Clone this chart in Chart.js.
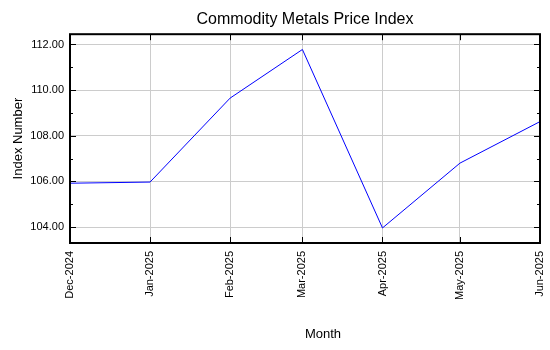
<!DOCTYPE html>
<html>
<head>
<meta charset="utf-8">
<script src="https://cdn.jsdelivr.net/npm/chart.js@4.4.1/dist/chart.umd.min.js"></script>
<style>
  html, body { margin: 0; padding: 0; background: #fff; }
  #box { width: 550px; height: 350px; }
</style>
</head>
<body>
<div id="box"><canvas id="chart"></canvas></div>
<script>
// monthly index values
const months = ['Dec-2024', 'Jan-2025', 'Feb-2025', 'Mar-2025', 'Apr-2025', 'May-2025', 'Jun-2025'];
const indexValues = [105.92, 105.97, 109.65, 111.78, 103.96, 106.80, 108.62];
const yTicks = [104, 106, 108, 110, 112];
const yMinor = [105, 107, 109, 111];

const monthNames = ['Jan', 'Feb', 'Mar', 'Apr', 'May', 'Jun', 'Jul', 'Aug', 'Sep', 'Oct', 'Nov', 'Dec'];

// days since the first month, so the x axis is spaced by real calendar time
function toDays(label) {
    const [m, y] = label.split('-');
    return Date.UTC(+y, monthNames.indexOf(m), 1) / 86400000;
}
const day0 = toDays(months[0]);
const xPos = months.map(m => toDays(m) - day0);

const FONT = "'Liberation Sans', Arial, sans-serif";

// black frame, inward tick marks and the x axis title
const framePlugin = {
    id: 'frame',
    afterDraw(chart) {
        const { ctx, chartArea: a, scales: { x, y } } = chart;
        ctx.save();
        ctx.strokeStyle = '#000';
        ctx.lineWidth = 1;
        ctx.beginPath();
        xPos.forEach(v => {
            const px = Math.round(x.getPixelForValue(v)) + 0.5;
            ctx.moveTo(px, a.top); ctx.lineTo(px, a.top + 6);
            ctx.moveTo(px, a.bottom); ctx.lineTo(px, a.bottom - 6);
        });
        yTicks.forEach(v => {
            const py = Math.round(y.getPixelForValue(v)) + 0.5;
            ctx.moveTo(a.left, py); ctx.lineTo(a.left + 6, py);
            ctx.moveTo(a.right, py); ctx.lineTo(a.right - 6, py);
        });
        yMinor.forEach(v => {
            const py = Math.round(y.getPixelForValue(v)) + 0.5;
            ctx.moveTo(a.left, py); ctx.lineTo(a.left + 3, py);
            ctx.moveTo(a.right, py); ctx.lineTo(a.right - 3, py);
        });
        ctx.stroke();
        ctx.lineWidth = 2;
        ctx.strokeRect(a.left, a.top, a.right - a.left, a.bottom - a.top);

        ctx.fillStyle = '#000';
        ctx.font = '13px ' + FONT;
        ctx.textAlign = 'center';
        ctx.textBaseline = 'middle';
        ctx.fillText('Month', a.left + (a.right - a.left) / 2 + 18, 334);
        ctx.restore();
    }
};

new Chart(document.getElementById('chart'), {
    type: 'line',
    data: {
        datasets: [{
            label: 'Index',
            data: xPos.map((d, i) => ({ x: d, y: indexValues[i] })),
            borderColor: '#0000ff',
            borderWidth: 1,
            pointRadius: 0,
            tension: 0,
            fill: false
        }]
    },
    options: {
        responsive: true,
        maintainAspectRatio: false,
        animation: false,
        layout: { padding: { left: 0, right: 10, top: 0, bottom: 0 } },
        plugins: {
            legend: { display: false },
            tooltip: { enabled: false },
            title: {
                display: true,
                text: 'Commodity Metals Price Index',
                fullSize: false,
                color: '#000',
                font: { family: FONT, size: 16, weight: 'normal' },
                padding: { top: 10, bottom: 5 }
            }
        },
        scales: {
            x: {
                type: 'linear',
                min: xPos[0],
                max: xPos[xPos.length - 1],
                afterBuildTicks: s => { s.ticks = xPos.map(v => ({ value: v })); },
                afterFit: s => { s.height = 107; s.paddingLeft = 0; s.paddingRight = 0; },
                grid: { color: '#cccccc', drawTicks: false },
                border: { display: false },
                ticks: {
                    autoSkip: false,
                    minRotation: 90,
                    maxRotation: 90,
                    padding: 8,
                    color: '#000',
                    font: { family: FONT, size: 11 },
                    callback: v => months[xPos.indexOf(v)]
                }
            },
            y: {
                min: 103.3,
                max: 112.45,
                afterBuildTicks: s => { s.ticks = yTicks.map(v => ({ value: v })); },
                afterFit: s => { s.width = 70; },
                grid: { color: '#cccccc', drawTicks: false },
                border: { display: false },
                title: {
                    display: true,
                    text: 'Index Number',
                    color: '#000',
                    font: { family: FONT, size: 13 },
                    padding: { top: 11, bottom: 4 }
                },
                ticks: {
                    padding: 6,
                    color: '#000',
                    font: { family: FONT, size: 11 },
                    callback: v => v.toFixed(2)
                }
            }
        }
    },
    plugins: [framePlugin]
});
</script>
</body>
</html>
